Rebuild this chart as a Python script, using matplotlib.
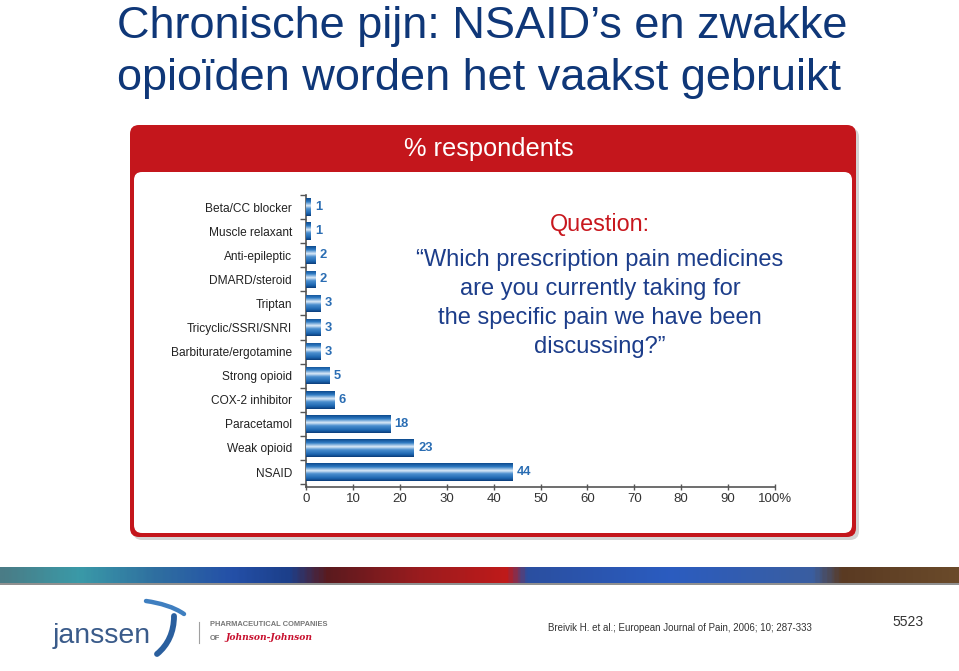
import matplotlib
matplotlib.use("Agg")
import matplotlib.pyplot as plt
import numpy as np
from matplotlib.patches import FancyBboxPatch, PathPatch
from matplotlib.path import Path
from matplotlib.colors import LinearSegmentedColormap

# ---------------- data ----------------
categories = ["Beta/CC blocker", "Muscle relaxant", "Anti-epileptic", "DMARD/steroid",
              "Triptan", "Tricyclic/SSRI/SNRI", "Barbiturate/ergotamine", "Strong opioid",
              "COX-2 inhibitor", "Paracetamol", "Weak opioid", "NSAID"]
values = [1, 1, 2, 2, 3, 3, 3, 5, 6, 18, 23, 44]
xtick_values = [0, 10, 20, 30, 40, 50, 60, 70, 80, 90, 100]
xtick_labels = ["0", "10", "20", "30", "40", "50", "60", "70", "80", "90", "100%"]

title_lines = ["Chronische pijn: NSAID\u2019s en zwakke", "opio\u00efden worden het vaakst gebruikt"]
panel_header = "% respondents"
question_label = "Question:"
question_lines = ["\u201cWhich prescription pain medicines", "are you currently taking for",
                  "the specific pain we have been", "discussing?\u201d"]
citation = "Breivik H. et al.; European Journal of Pain, 2006; 10; 287-333"
slide_number = "5523"

# ---------------- styles ----------------
W, H = 959, 671
NAVY = "#0f3778"
RED = "#c4161c"
QBLUE = "#1c3d8a"
VAL_BLUE = "#2a6db3"
SANS = ["Liberation Sans", "DejaVu Sans"]
NARROW = ["Liberation Sans Narrow", "Liberation Sans", "DejaVu Sans"]

fig = plt.figure(figsize=(W / 100, H / 100), dpi=100)
fig.patch.set_facecolor("white")

# background axes in pixel coordinates
bg = fig.add_axes([0, 0, 1, 1], zorder=0)
bg.set_xlim(0, W)
bg.set_ylim(H, 0)
bg.axis("off")

# title
bg.text(117, 38, title_lines[0], fontsize=32.5, color=NAVY, family=SANS, va="baseline", ha="left")
bg.text(117, 90, title_lines[1], fontsize=32.5, color=NAVY, family=SANS, va="baseline", ha="left")

# red panel with shadow
bg.add_patch(FancyBboxPatch((133, 128), 726, 412, boxstyle="round,pad=0,rounding_size=9",
                            facecolor="#d4d4d4", edgecolor="none", zorder=1))
bg.add_patch(FancyBboxPatch((130, 125), 726, 412, boxstyle="round,pad=0,rounding_size=9",
                            facecolor=RED, edgecolor="none", zorder=2))
bg.add_patch(FancyBboxPatch((134, 172), 718, 361, boxstyle="round,pad=0,rounding_size=8",
                            facecolor="white", edgecolor="none", zorder=3))
bg.text(489, 149, panel_header, fontsize=18.3, color="white", family=SANS,
        ha="center", va="center", zorder=4)

# question text
bg.text(600, 225, question_label, fontsize=16.8, color="#c8171e", family=SANS,
        ha="center", va="center", zorder=4)
for i, line in enumerate(question_lines):
    bg.text(600, 260 + i * 29, line, fontsize=17, color=QBLUE, family=SANS,
            ha="center", va="center", zorder=4)

# decorative band
band_cmap = LinearSegmentedColormap.from_list("band", [
    (0.00, "#4a7c86"), (0.08, "#3a9aa8"), (0.16, "#2f6fa0"), (0.24, "#2450a8"),
    (0.30, "#1c3f8a"), (0.34, "#5a1a1e"), (0.44, "#9c1c1e"), (0.53, "#c01a1a"),
    (0.55, "#2a4fa0"), (0.70, "#2b5cc0"), (0.85, "#3a5ea0"), (0.88, "#5a3a22"),
    (1.00, "#6a4a2a")])
grad = np.linspace(0, 1, 400).reshape(1, -1)
bg.imshow(grad, cmap=band_cmap, extent=(0, W, 583, 567), aspect="auto", zorder=2)
bg.plot([0, W], [583.5, 583.5], color="#7a7a7a", lw=1.2, zorder=3)

# Janssen logo
bg.text(53, 643, "janssen", fontsize=20.5, color="#3a5b8a", family=SANS, va="baseline", ha="left")
swoosh_top = Path([(146, 601), (160, 603), (174, 607), (184, 614)],
                  [Path.MOVETO, Path.CURVE4, Path.CURVE4, Path.CURVE4])
bg.add_patch(PathPatch(swoosh_top, facecolor="none", edgecolor="#3f7fc0", lw=3.2, capstyle="round", zorder=3))
swoosh_v = Path([(174, 616), (174, 632), (168, 645), (157, 654)],
                [Path.MOVETO, Path.CURVE4, Path.CURVE4, Path.CURVE4])
bg.add_patch(PathPatch(swoosh_v, facecolor="none", edgecolor="#2a5f9e", lw=4.2, capstyle="round", zorder=3))
bg.plot([199, 199], [622, 643], color="#a0a0a0", lw=0.8)
bg.text(210, 625, "PHARMACEUTICAL COMPANIES", fontsize=5.4, color="#777777", family=SANS,
        fontweight="bold", va="center", ha="left")
bg.text(210, 638, "OF", fontsize=5.4, color="#777777", family=SANS, fontweight="bold",
        va="center", ha="left")
bg.text(225, 638, "Johnson-Johnson", fontsize=6.6, color="#c8102e", family=["DejaVu Serif"],
        style="italic", fontweight="bold", va="center", ha="left")

# citation & slide number
bg.text(548, 628, citation, fontsize=7.0, color="#333333", family=NARROW, va="center", ha="left")
bg.text(908, 622, slide_number, fontsize=10, color="#333333", family=SANS, va="center", ha="center")

# ---------------- chart axes ----------------
ax = fig.add_axes([306 / W, 1 - 487 / H, (775 - 306) / W, (487 - 195) / H], zorder=5)
ax.patch.set_alpha(0)
y = np.arange(len(categories))
bars = ax.barh(y, values, height=0.73, color="#2468b0", edgecolor="none", zorder=2)

bar_cmap = LinearSegmentedColormap.from_list("barg", [
    (0.0, "#0d4a8e"), (0.2, "#2d7ac3"), (0.42, "#dbeaf8"), (0.6, "#4a8ecf"),
    (0.85, "#1d66b0"), (1.0, "#0b3d7a")])
vgrad = np.linspace(0, 1, 64).reshape(-1, 1)
for b in bars:
    x0, y0, w, h = b.get_x(), b.get_y(), b.get_width(), b.get_height()
    im = ax.imshow(vgrad, cmap=bar_cmap, extent=(x0, x0 + w, y0 + h, y0),
                   origin="upper", aspect="auto", zorder=3)
    im.set_clip_path(b)

for yi, v in zip(y, values):
    ax.annotate(str(v), (v, yi), xytext=(3, 0), textcoords="offset points",
                ha="left", va="center", fontsize=9.3, fontweight="bold",
                color=VAL_BLUE, family=SANS)

ax.set_xlim(0, 100)
ax.set_ylim(len(categories) - 1 + 0.62, -0.5)
ax.set_yticks(y)
ax.set_yticklabels(categories, family=NARROW, fontsize=8.6, color="#222222")
ax.set_yticks(np.arange(-0.5, len(categories), 1.0), minor=True)
ax.tick_params(axis="y", which="major", length=0, pad=10)
ax.tick_params(axis="y", which="minor", length=4, width=1, color="#555555", direction="out")
ax.set_xticks(xtick_values)
ax.set_xticklabels(xtick_labels, family=NARROW, fontsize=9.5, color="#333333")
ax.tick_params(axis="x", length=5, width=1, color="#555555", direction="inout", pad=2)
for s in ["top", "right"]:
    ax.spines[s].set_visible(False)
for s in ["left", "bottom"]:
    ax.spines[s].set_color("#555555")
    ax.spines[s].set_linewidth(1.2)

fig.savefig("out.png", dpi=100)
